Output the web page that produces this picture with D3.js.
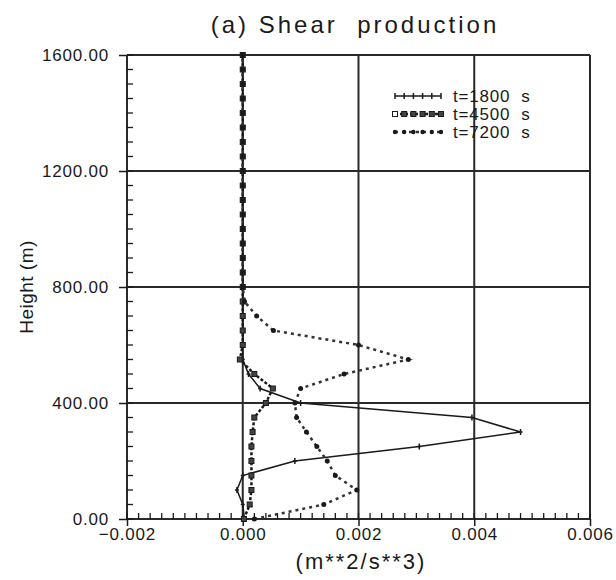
<!DOCTYPE html>
<html><head><meta charset="utf-8">
<script src="https://cdn.jsdelivr.net/npm/d3@7"></script>
<style>body{margin:0;background:#fff}</style>
</head><body>
<svg id="c" width="616" height="580"></svg>
<script>
const heights = [0,50,100,150,200,250,300,350,400,450,500,550,600,650,700,750,800,850,900,950,1000,1050,1100,1150,1200,1250,1300,1350,1400,1450,1500,1550,1600];
const t1800 = [0.00003,0.0000,-0.0001,0.0000,0.0009,0.00305,0.0048,0.00396,0.0010,0.0003,0.0001,0.0000,0,0,0,0,0,0,0,0,0,0,0,0,0,0,0,0,0,0,0,0,0];
const t4500 = [0.00002,0.00012,0.00015,0.00015,0.00015,0.00015,0.00017,0.0002,0.00040,0.00052,0.0002,-0.00005,0,0,0,0,0,0,0,0,0,0,0,0,0,0,0,0,0,0,0,0,0];
const t7200 = [0.0002,0.0014,0.00197,0.0016,0.00146,0.00128,0.0011,0.00093,0.0009,0.0010,0.00175,0.00286,0.0020,0.00053,0.00024,0.00003,0,0,0,0,0,0,0,0,0,0,0,0,0,0,0,0,0];
const seriesNames = ["t=1800  s","t=4500  s","t=7200  s"];
const xTicks = [-0.002,0.000,0.002,0.004,0.006];
const yTicks = [0,400,800,1200,1600];

const svg = d3.select("#c");
const x = d3.scaleLinear().domain([-0.002,0.006]).range([127,590]);
const y = d3.scaleLinear().domain([0,1600]).range([519,55]);
const ink = "#1a1a1a";
const font = "Liberation Sans, Arial, sans-serif";

// grid
svg.append("g").selectAll("line.v").data(xTicks).join("line")
  .attr("x1",d=>x(d)).attr("x2",d=>x(d)).attr("y1",y(0)).attr("y2",y(1600))
  .attr("stroke","#2a2a2a").attr("stroke-width",2);
svg.append("g").selectAll("line.h").data(yTicks).join("line")
  .attr("x1",x(-0.002)).attr("x2",x(0.006)).attr("y1",d=>y(d)).attr("y2",d=>y(d))
  .attr("stroke","#2a2a2a").attr("stroke-width",2);

// axes
const xAxis = d3.axisBottom(x).tickValues(xTicks).tickFormat(d3.format(".3f")).tickSize(7).tickPadding(2);
const gx = svg.append("g").attr("transform",`translate(0,${y(0)})`).call(xAxis);
gx.select(".domain").remove();
gx.selectAll("line").attr("stroke",ink).attr("stroke-width",1.5);
gx.selectAll("text").attr("font-family",font).attr("font-size",17).attr("letter-spacing",0.8).attr("fill",ink)
  .text(d=>d3.format(".3f")(d).replace("-","\u2212"));
const xMinor = d3.range(-0.002,0.00601,0.0002);
svg.append("g").selectAll("line").data(xMinor).join("line")
  .attr("x1",d=>x(d)).attr("x2",d=>x(d)).attr("y1",y(0)).attr("y2",y(0)-6)
  .attr("stroke",ink).attr("stroke-width",1.3);

const yAxis = d3.axisLeft(y).tickValues(yTicks).tickFormat(d3.format(".2f")).tickSize(8).tickPadding(10);
const gy = svg.append("g").attr("transform",`translate(${x(-0.002)},0)`).call(yAxis);
gy.select(".domain").remove();
gy.selectAll("line").attr("stroke",ink).attr("stroke-width",1.5);
gy.selectAll("text").attr("font-family",font).attr("font-size",17).attr("letter-spacing",0.8).attr("fill",ink);
const yMinor = d3.range(0,1601,50);
svg.append("g").selectAll("line").data(yMinor).join("line")
  .attr("x1",x(-0.002)).attr("x2",x(-0.002)+6).attr("y1",d=>y(d)).attr("y2",d=>y(d))
  .attr("stroke",ink).attr("stroke-width",1.3);

// titles
svg.append("text").attr("x",355).attr("y",33).attr("text-anchor","middle")
  .attr("font-family",font).attr("font-size",24).attr("letter-spacing",3).attr("fill",ink)
  .attr("xml:space","preserve").style("white-space","pre").text("(a) Shear  production");
svg.append("text").attr("x",361).attr("y",569).attr("text-anchor","middle")
  .attr("font-family",font).attr("font-size",22).attr("letter-spacing",2).attr("fill",ink).text("(m**2/s**3)");
svg.append("text").attr("transform","translate(33,287) rotate(-90)").attr("text-anchor","middle")
  .attr("font-family",font).attr("font-size",19).attr("letter-spacing",0.5).attr("fill",ink).text("Height (m)");

// series
const line = d3.line().x(d=>x(d[0])).y(d=>y(d[1]));
function pts(vals){return vals.map((v,i)=>[v,heights[i]]);}

// t=1800 solid with + ticks
const p1 = pts(t1800);
svg.append("path").attr("d",line(p1)).attr("fill","none").attr("stroke",ink).attr("stroke-width",1.5);
svg.append("g").selectAll("path").data(p1).join("path")
  .attr("d",d=>`M${x(d[0])},${y(d[1])-3}V${y(d[1])+3}M${x(d[0])-2},${y(d[1])}H${x(d[0])+2}`)
  .attr("stroke",ink).attr("stroke-width",1.5);

// t=4500 dashed with squares
const p2 = pts(t4500);
svg.append("path").attr("d",line(p2)).attr("fill","none").attr("stroke",ink).attr("stroke-width",2.5).attr("stroke-dasharray","3,2");
svg.append("g").selectAll("rect").data(p2).join("rect")
  .attr("x",d=>x(d[0])-2.5).attr("y",d=>y(d[1])-2.5).attr("width",5).attr("height",5)
  .attr("fill","#444").attr("stroke",ink).attr("stroke-width",1);

// t=7200 dotted with dots
const p3 = pts(t7200);
svg.append("path").attr("d",line(p3)).attr("fill","none").attr("stroke","#333").attr("stroke-width",2.5).attr("stroke-dasharray","3,4");
svg.append("g").selectAll("circle").data(p3).join("circle")
  .attr("cx",d=>x(d[0])).attr("cy",d=>y(d[1])).attr("r",2.5).attr("fill",ink);

// legend
const lg = svg.append("g");
const ly = [96,114,132];
const lx0 = 395, lx1 = 441;
const lxs = d3.range(0,6).map(i=>lx0+i*(lx1-lx0)/5);
// 1800
lg.append("line").attr("x1",lx0).attr("x2",lx1).attr("y1",ly[0]).attr("y2",ly[0]).attr("stroke",ink).attr("stroke-width",1.5);
lg.selectAll("path.l1").data(lxs).join("path").attr("d",d=>`M${d},${ly[0]-3}V${ly[0]+3}`).attr("stroke",ink).attr("stroke-width",1.5);
// 4500
lg.append("line").attr("x1",lx0).attr("x2",lx1).attr("y1",ly[1]).attr("y2",ly[1]).attr("stroke",ink).attr("stroke-width",2.5).attr("stroke-dasharray","3,2");
lg.selectAll("rect.l2").data(lxs).join("rect").attr("x",d=>d-2.5).attr("y",ly[1]-2.5).attr("width",5).attr("height",5)
  .attr("fill",(d,i)=>i===0?"#fff":"#444").attr("stroke",ink).attr("stroke-width",1);
// 7200
lg.append("line").attr("x1",lx0).attr("x2",lx1).attr("y1",ly[2]).attr("y2",ly[2]).attr("stroke","#333").attr("stroke-width",2.5).attr("stroke-dasharray","3,4");
lg.selectAll("circle.l3").data(lxs).join("circle").attr("cx",d=>d).attr("cy",ly[2]).attr("r",2.2).attr("fill",ink);
lg.selectAll("text").data(seriesNames).join("text")
  .attr("x",453).attr("y",(d,i)=>ly[i]+6).attr("font-family",font).attr("font-size",17).attr("letter-spacing",0.8)
  .attr("fill",ink).attr("xml:space","preserve").style("white-space","pre").text(d=>d);
</script>
</body></html>
